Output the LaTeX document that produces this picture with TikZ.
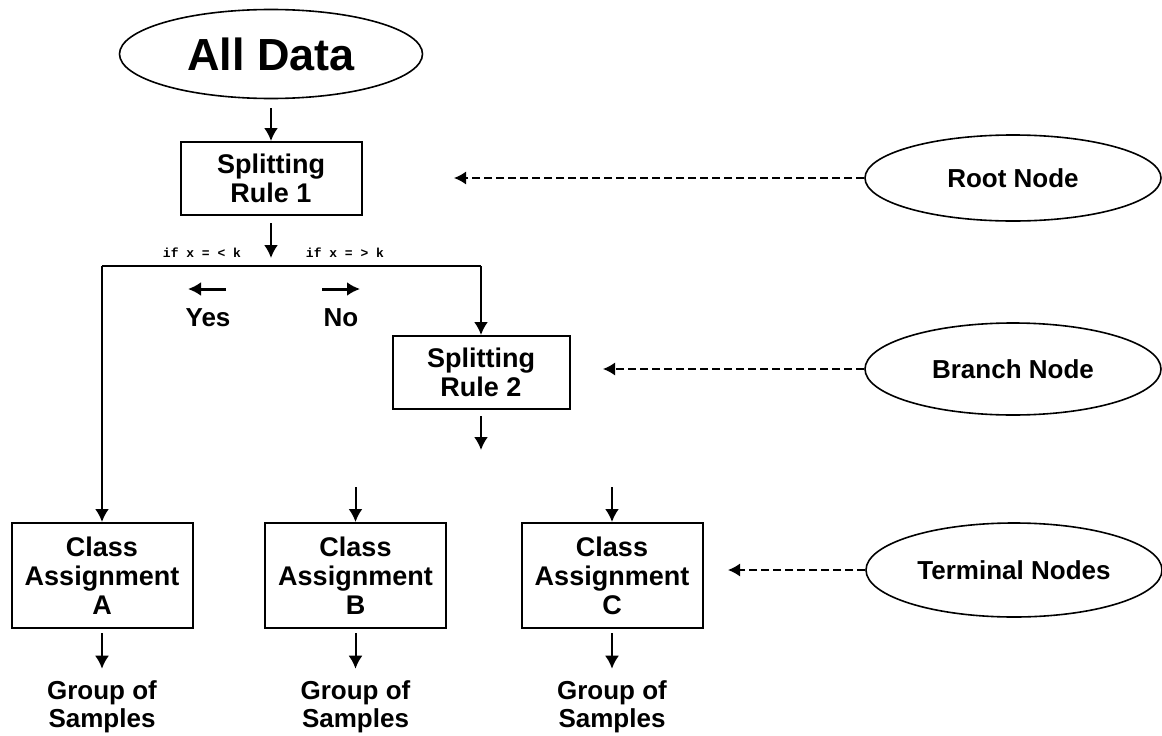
\documentclass[tikz,border=0pt]{standalone}
\usepackage{fontspec}
\setmainfont{Liberation Sans}
\newfontfamily\condfont{Liberation Mono}
\usepackage{tikz}
\usetikzlibrary{calc, shapes.geometric}
\usetikzlibrary{arrows.meta}
\tikzset{>={Latex[width=14pt,length=13pt]}}

\begin{document}
\begin{tikzpicture}[
    x = 1pt, y = -1pt,
    rulebox/.style = {draw, line width=2pt, minimum height=73pt, align=center,
        inner sep=0pt, font=\fontsize{27}{29}\selectfont\bfseries},
    classbox/.style = {rulebox, minimum width=181pt, minimum height=105pt},
    oval/.style = {draw, ellipse, line width=1.6pt, minimum width=296pt,
        font=\fontsize{26}{29}\selectfont\bfseries},
    lbl/.style = {align=center, inner sep=0pt,
        font=\fontsize{26}{28}\selectfont\bfseries},
    arr/.style = {-{Latex[width=14pt,length=13pt]}, line width=2pt},
    hint/.style = {-{Latex[width=13pt,length=12pt]}, line width=1.5pt,
        dash pattern=on 8pt off 4pt},
    cond/.style = {inner sep=0pt, font=\condfont\bfseries\fontsize{13}{15}\selectfont}
  ]
  \useasboundingbox (0,0) rectangle (1162,736);

  % tree
  \node[oval, minimum width=303pt, minimum height=89pt,
    font=\fontsize{45}{50}\selectfont\bfseries] (alldata) at (271,54) {All Data};
  \node[rulebox, minimum width=181pt] (rule1) at (271,178.5) {Splitting\\Rule 1};
  \node[rulebox, minimum width=177pt] (rule2) at (481,372.5) {Splitting\\Rule 2};

  \foreach \c/\x in {A/102, B/355.5, C/612} {
    \node[classbox] (class\c) at (\x,575.5) {Class\\Assignment\\\c};
    \node[lbl] (group\c) at (\x,707) {Group of\\Samples};
    \draw[arr, shorten <=4pt, shorten >=12pt] (class\c.south) -- (group\c.north);
  }

  \coordinate (split) at (271,266);
  \coordinate (r2out) at (481,450);
  \coordinate (inB) at (355.5,487);
  \coordinate (inC) at (612,487);

  \draw[arr, shorten <=9pt] (alldata.south) -- (rule1.north);
  \draw[arr, shorten <=7pt, shorten >=8pt] (rule1.south) -- (split);
  \draw[line width=1.8pt] (classA.north |- split) -- (rule2.north |- split);
  \draw[arr] (classA.north |- split) -- (classA.north);
  \draw[arr] (rule2.north |- split) -- (rule2.north);
  \draw[arr, shorten <=6pt] (rule2.south) -- (r2out);
  \draw[arr] (inB) -- (classB.north);
  \draw[arr] (inC) -- (classC.north);

  % branch conditions
  \node[cond] (iflow) at (202,253) {if x = < k};
  \node[cond] (ifhigh) at (345,253) {if x = > k};
  \node[lbl] (yes) at (208,318) {Yes};
  \node[lbl] (no) at (341,318) {No};
  \coordinate (yestail) at (226,289);
  \coordinate (yeshead) at (188,289);
  \coordinate (notail) at (322,289);
  \coordinate (nohead) at (360,289);
  \draw[arr, line width=3pt] (yestail) -- (yeshead);
  \draw[arr, line width=3pt] (notail) -- (nohead);

  % legend
  \node[oval, minimum height=86pt] (root) at (1013,178) {Root Node};
  \node[oval, minimum height=92pt] (branch) at (1013,369) {Branch Node};
  \node[oval, minimum height=94pt] (terminal) at (1014,570) {Terminal Nodes};
  \coordinate (rootptr) at (454,178);
  \coordinate (branchptr) at (603,369);
  \coordinate (terminalptr) at (728,570);
  \draw[hint] (root.west) -- (rootptr);
  \draw[hint] (branch.west) -- (branchptr);
  \draw[hint] (terminal.west) -- (terminalptr);
\end{tikzpicture}
\end{document}
